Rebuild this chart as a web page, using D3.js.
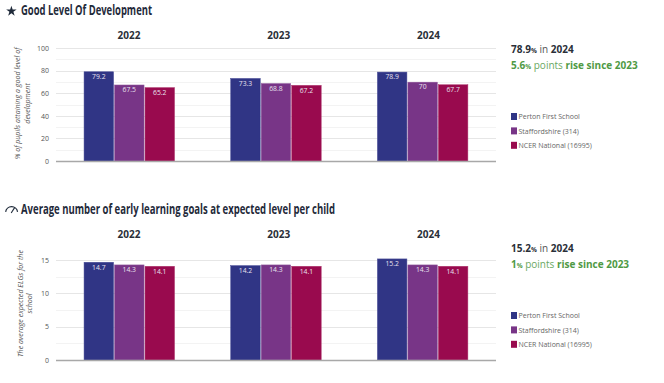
<!DOCTYPE html>
<html><head><meta charset="utf-8">
<script src="https://cdn.jsdelivr.net/npm/d3@7"></script>
<style>
html,body{margin:0;padding:0;background:#fff}
svg{display:block}
text{font-family:"Open Sans",sans-serif}
</style></head><body>
<svg id="c" width="664" height="383"></svg>
<script>
const years = ["2022","2023","2024"];
const seriesNames = ["Perton First School","Staffordshire (314)","NCER National (16995)"];
const colors = ["#303585","#783587","#990a4e"];
const edgeColors = ["#4a4f98","#93609f","#b03a70"];
const gldValues = [[79.2,67.5,65.2],[73.3,68.8,67.2],[78.9,70,67.7]];
const gldLabels = [["79.2","67.5","65.2"],["73.3","68.8","67.2"],["78.9","70","67.7"]];
const gldTicks = [0,20,40,60,80,100];
const gldMinor = [10,30,50,70,90];
const elgValues = [[14.7,14.3,14.1],[14.2,14.3,14.1],[15.2,14.3,14.1]];
const elgLabels = [["14.7","14.3","14.1"],["14.2","14.3","14.1"],["15.2","14.3","14.1"]];
const elgTicks = [0,5,10,15];
const elgMinor = [2.5,7.5,12.5];

const svg = d3.select("#c");
const x0 = d3.scaleBand().domain(years).range([56,496]);
const x1 = d3.scaleBand().domain([0,1,2]).range([27.8,118.8]).paddingInner(0.015);
const xHead = d3.scalePoint().domain(years).range([129,428.5]);

function chart(o){
  const y = d3.scaleLinear().domain(o.domain).range([o.bottom,o.top]);
  const g = svg.append("g");
  g.append("text").attr("x",o.titleX).attr("y",o.titleY).attr("font-size",13.5).attr("font-weight",700)
    .attr("fill","#1f2a3a").attr("textLength",o.titleLen).attr("lengthAdjust","spacingAndGlyphs").text(o.title);
  g.append("g").selectAll("line").data(o.minor).join("line")
    .attr("x1",56).attr("x2",496).attr("y1",d=>Math.round(y(d))+.5).attr("y2",d=>Math.round(y(d))+.5)
    .attr("stroke","#f3f3f3");
  g.append("g").selectAll("line").data(o.ticks.filter(d=>d!==0)).join("line")
    .attr("x1",56).attr("x2",496).attr("y1",d=>Math.round(y(d))+.5).attr("y2",d=>Math.round(y(d))+.5)
    .attr("stroke","#e6e6e6");
  const ax = g.append("g").attr("transform","translate(56,0)")
    .call(d3.axisLeft(y).tickValues(o.ticks).tickSize(0).tickPadding(7));
  ax.select(".domain").remove();
  ax.selectAll("text").attr("font-size",7).attr("fill","#555").style("font-family",'"Open Sans",sans-serif');
  g.selectAll("text.yr").data(years).join("text").attr("class","yr")
    .attr("x",d=>xHead(d)).attr("y",o.yearY).attr("text-anchor","middle")
    .attr("font-size",10).attr("font-weight",700).attr("fill","#2a2f38").text(d=>d);
  const f = g.selectAll("g.f").data(years).join("g").attr("class","f")
    .attr("transform",d=>`translate(${x0(d)},0)`);
  f.each(function(yr,i){
    const s = d3.select(this);
    const vals = o.values[i];
    s.selectAll("rect").data(vals).join("rect")
      .attr("x",(d,j)=>x1(j)+.25).attr("width",x1.bandwidth()-.5)
      .attr("y",d=>y(d)+.25).attr("height",d=>y(0)-y(d)-.25)
      .attr("fill",(d,j)=>colors[j]).attr("stroke",(d,j)=>edgeColors[j]).attr("stroke-width",.5);
    s.selectAll("text.v").data(vals).join("text").attr("class","v")
      .attr("x",(d,j)=>x1(j)+x1.bandwidth()/2).attr("y",d=>y(d)+7.5)
      .attr("text-anchor","middle").attr("font-size",6.8).attr("fill","#e8e2ee")
      .text((d,j)=>o.labels[i][j]);
  });
  g.append("line").attr("x1",56).attr("x2",496).attr("y1",y(0)+.5).attr("y2",y(0)+.5)
    .attr("stroke","#a8a8a8").attr("stroke-width",1.5);
  const t = g.append("text").attr("transform",`translate(${o.yTitleX},${(o.top+o.bottom)/2+o.yTitleDy}) rotate(-90)`)
    .attr("text-anchor","middle").attr("font-size",7.1).attr("font-style","italic").attr("fill","#555");
  o.yTitle.forEach((l,i)=>t.append("tspan").attr("x",0).attr("dy",i?9.5:0).text(l));
  const s1 = g.append("text").attr("x",511).attr("y",o.sumY).attr("font-size",10).attr("fill","#2a2f38");
  s1.append("tspan").attr("font-weight",700).text(o.sum1);
  s1.append("tspan").attr("font-weight",700).attr("font-size",6.5).text("%");
  s1.append("tspan").attr("fill","#555").text(" in ");
  s1.append("tspan").attr("font-weight",700).text("2024");
  const s2 = g.append("text").attr("x",511).attr("y",o.sumY+16.3).attr("font-size",10).attr("fill","#4f9a45");
  s2.append("tspan").attr("font-weight",700).text(o.sum2);
  s2.append("tspan").attr("font-weight",700).attr("font-size",6.5).text("%");
  s2.append("tspan").attr("fill","#6aa862").text(" points ");
  s2.append("tspan").attr("font-weight",700).text("rise since 2023");
  const lg = g.selectAll("g.l").data(seriesNames).join("g").attr("class","l")
    .attr("transform",(d,i)=>`translate(511,${o.legY+i*14.4})`);
  lg.append("rect").attr("width",6).attr("height",7).attr("fill",(d,i)=>colors[i]);
  lg.append("text").attr("x",7.5).attr("y",6.4).attr("font-size",7).attr("fill","#666").text(d=>d);
}

chart({domain:[0,100],top:48,bottom:161,ticks:gldTicks,minor:gldMinor,values:gldValues,labels:gldLabels,
  title:"Good Level Of Development",titleX:21,titleY:15,titleLen:131,yearY:39,
  yTitle:["% of pupils attaining a good level of","development"],yTitleX:20,yTitleDy:-1,
  sum1:"78.9",sum2:"5.6",sumY:53,legY:113});
chart({domain:[0,15],top:260,bottom:360,ticks:elgTicks,minor:elgMinor,values:elgValues,labels:elgLabels,
  title:"Average number of early learning goals at expected level per child",titleX:21,titleY:214,titleLen:314,yearY:238,
  yTitle:["The average expected ELGs for the","school"],yTitleX:22.5,yTitleDy:-6.5,
  sum1:"15.2",sum2:"1",sumY:252,legY:312});

svg.append("path").attr("d",d3.symbol(d3.symbolStar,34)()).attr("transform","translate(11.4,11.2)").attr("fill","#1f2a3a");
const arc = d3.arc().innerRadius(5.4).outerRadius(6.6).startAngle(-1.45).endAngle(1.45);
svg.append("path").attr("d",arc()).attr("transform","translate(11.6,212.6)").attr("fill","#1f2a3a");
svg.append("line").attr("x1",11.2).attr("y1",213).attr("x2",14.6).attr("y2",207.6).attr("stroke","#1f2a3a").attr("stroke-width",1.1);
</script>
</body></html>
